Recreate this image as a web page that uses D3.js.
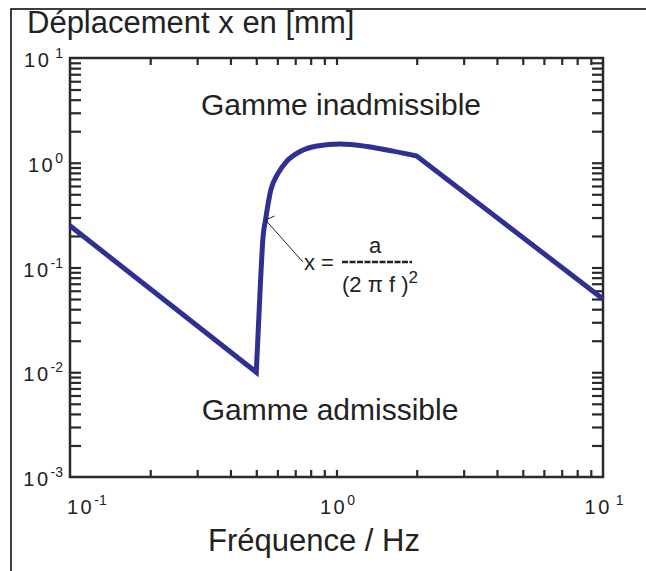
<!DOCTYPE html>
<html>
<head>
<meta charset="utf-8">
<script src="https://cdn.jsdelivr.net/npm/d3@7"></script>
<style>
  body { margin: 0; background: #fff; }
  svg { display: block; font-family: "Liberation Sans", Arial, sans-serif; }
</style>
</head>
<body>
<div id="main"></div>
<script>
// Displacement curve (f in Hz, x in mm)
const freq = [0.1, 0.5, 0.519, 0.53, 0.5415, 0.567, 0.601, 0.652, 0.73, 0.845, 1.03, 1.30, 1.63, 2.0, 10];
const disp = [0.25, 0.01, 0.076, 0.195, 0.284, 0.55, 0.78, 1.04, 1.28, 1.445, 1.51, 1.43, 1.29, 1.16, 0.05];

const xDomain = [0.1, 10];
const yDomain = [0.001, 10];
const xExponents = [-1, 0, 1];
const yExponents = [1, 0, -1, -2, -3];

const title = "Déplacement x en [mm]";
const xTitle = "Fréquence / Hz";
const upperZone = "Gamme inadmissible";
const lowerZone = "Gamme admissible";

const width = 646, height = 571;
const margin = { left: 70, right: 43, top: 58, bottom: 94 };
const blue = "#2e3192";

const svg = d3.select("#main").append("svg")
  .attr("width", width)
  .attr("height", height);

// outer frame (top and left edges only)
svg.append("path")
  .attr("d", "M11," + height + "V9H" + width)
  .attr("fill", "none")
  .attr("stroke", "#000")
  .attr("stroke-width", 1.5);

const x = d3.scaleLog().domain(xDomain).range([margin.left, width - margin.right]);
const y = d3.scaleLog().domain(yDomain).range([height - margin.bottom, margin.top]);

const innerTicks = function (scale) {
  const d = scale.domain();
  return scale.ticks().filter(v => v > d[0] * 1.001 && v < d[1] * 0.999);
};

// ticks pointing inward on all four sides
const tickStyle = function (g) {
  g.select(".domain").remove();
  g.selectAll("line").attr("stroke", "#2a2a2a").attr("stroke-width", 2.2);
};
svg.append("g")
  .attr("transform", "translate(0," + y.range()[0] + ")")
  .call(d3.axisBottom(x).tickValues(innerTicks(x)).tickSize(-7).tickFormat(""))
  .call(tickStyle);
svg.append("g")
  .attr("transform", "translate(0," + y.range()[1] + ")")
  .call(d3.axisTop(x).tickValues(innerTicks(x)).tickSize(-7).tickFormat(""))
  .call(tickStyle);
svg.append("g")
  .attr("transform", "translate(" + x.range()[0] + ",0)")
  .call(d3.axisLeft(y).tickValues(innerTicks(y)).tickSize(-11).tickFormat(""))
  .call(tickStyle);
svg.append("g")
  .attr("transform", "translate(" + x.range()[1] + ",0)")
  .call(d3.axisRight(y).tickValues(innerTicks(y)).tickSize(-11).tickFormat(""))
  .call(tickStyle);

// frame of the plot
svg.append("rect")
  .attr("x", x.range()[0])
  .attr("y", y.range()[1])
  .attr("width", x.range()[1] - x.range()[0])
  .attr("height", y.range()[0] - y.range()[1])
  .attr("fill", "none")
  .attr("stroke", "#2a2a2a")
  .attr("stroke-width", 2.5);

// power-of-ten labels
const powerLabel = function (sel, e) {
  sel.append("tspan").text("10").attr("letter-spacing", 2.5);
  sel.append("tspan").text(e === 1 ? " 1" : String(e))
    .attr("font-size", 14)
    .attr("dy", -9);
};
yExponents.forEach(function (e) {
  svg.append("text")
    .attr("x", x.range()[0] - 7)
    .attr("y", y(Math.pow(10, e)) + 9)
    .attr("text-anchor", "end")
    .attr("font-size", 20)
    .attr("fill", "#222")
    .call(powerLabel, e);
});
xExponents.forEach(function (e, i) {
  svg.append("text")
    .attr("x", i === 0 ? x(Math.pow(10, e)) - 3 : x(Math.pow(10, e)) + 1)
    .attr("y", y.range()[0] + 37)
    .attr("text-anchor", i === 0 ? "start" : "middle")
    .attr("font-size", 20)
    .attr("fill", "#222")
    .call(powerLabel, e);
});

// titles
svg.append("text").attr("x", 27).attr("y", 33)
  .attr("font-size", 31).attr("fill", "#222").text(title);
svg.append("text").attr("x", 314).attr("y", 551)
  .attr("text-anchor", "middle")
  .attr("font-size", 31).attr("fill", "#222").text(xTitle);
svg.append("text").attr("x", 341).attr("y", 115)
  .attr("text-anchor", "middle")
  .attr("font-size", 30).attr("fill", "#222").text(upperZone);
svg.append("text").attr("x", 330).attr("y", 420)
  .attr("text-anchor", "middle")
  .attr("font-size", 30).attr("fill", "#222").text(lowerZone);

// curve: straight segments at both ends, smooth in the middle
const pts = freq.map((f, i) => [x(f), y(disp[i])]);
const smooth = d3.line().curve(d3.curveMonotoneX)(pts.slice(1, pts.length - 1));
const first = pts[0], last = pts[pts.length - 1];
svg.append("path")
  .attr("d", "M" + first[0] + "," + first[1] + "L" + smooth.slice(1) + "L" + last[0] + "," + last[1])
  .attr("fill", "none")
  .attr("stroke", blue)
  .attr("stroke-width", 5)
  .attr("stroke-linejoin", "miter");

// annotation x = a / (2 pi f)^2
const tip = [x(0.5415), y(0.284)];
svg.append("path")
  .attr("d", "M" + (tip[0] + 9) + "," + (tip[1] - 4) + "L" + tip[0] + "," + tip[1] + "L303,262")
  .attr("fill", "none")
  .attr("stroke", "#222")
  .attr("stroke-width", 1);
const formula = svg.append("g").attr("font-size", 22).attr("fill", "#222");
formula.append("text").attr("x", 304).attr("y", 270).text("x =");
formula.append("text").attr("x", 375).attr("y", 253).attr("text-anchor", "middle").text("a");
formula.append("line")
  .attr("x1", 342).attr("x2", 412).attr("y1", 262).attr("y2", 262)
  .attr("stroke", "#222").attr("stroke-width", 2.5).attr("stroke-dasharray", "6,1.5");
const den = formula.append("text").attr("x", 342).attr("y", 292);
den.append("tspan").text("(2 \u03C0 f )");
den.append("tspan").text("2").attr("font-size", 17).attr("dy", -9);
</script>
</body>
</html>
